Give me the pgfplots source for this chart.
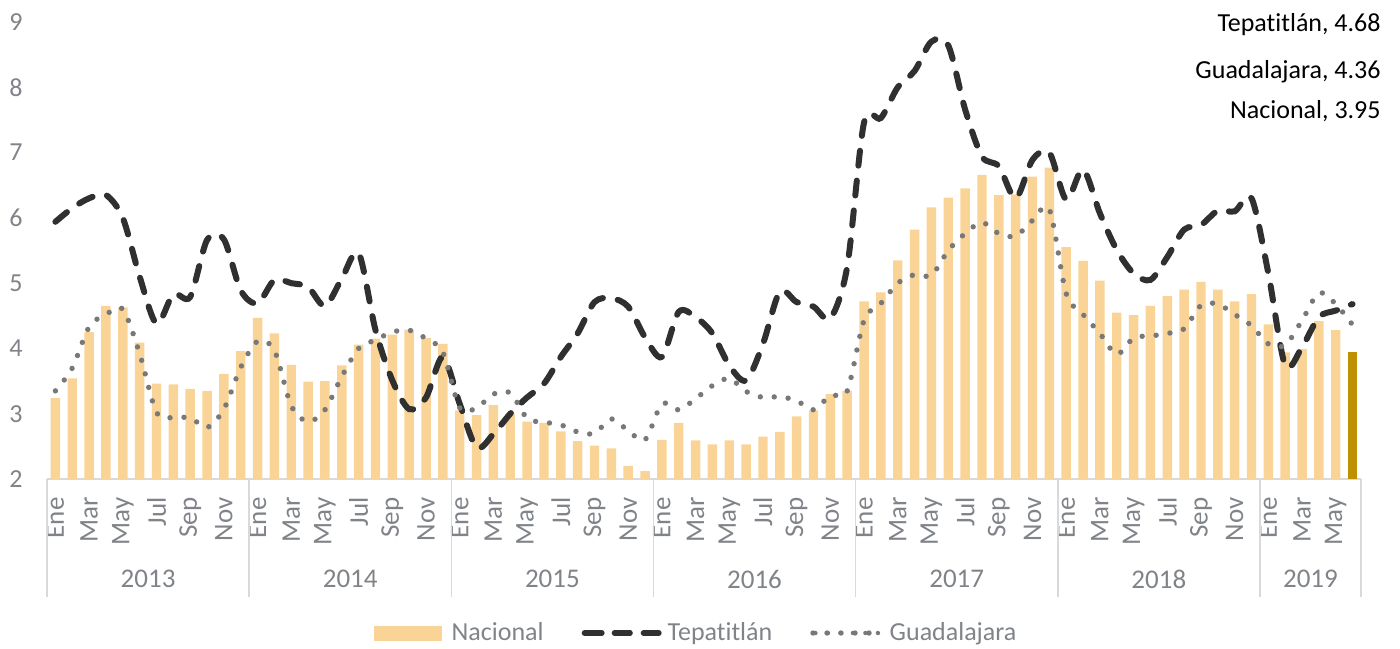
\documentclass[border=0pt]{standalone}
\usepackage{fontspec}
\setmainfont{Carlito}[Ligatures={NoCommon}]
\usepackage{pgfplots}
\usepackage{pgfplotstable}
\pgfplotsset{compat=1.18}
\definecolor{barc}{HTML}{F9D496}
\definecolor{barhi}{HTML}{BF9000}
\definecolor{tepc}{HTML}{303030}
\definecolor{guac}{HTML}{787878}
\definecolor{txtg}{HTML}{808489}
\definecolor{linec}{HTML}{D9D9D9}
\newcommand\ff{\fontsize{13}{15}\selectfont}
\newcommand\fm{\fontsize{13.5}{15}\selectfont}
\pgfplotstableread{
x nac
0 3.24
1 3.54
2 4.25
3 4.65
4 4.63
5 4.09
6 3.46
7 3.45
8 3.38
9 3.35
10 3.61
11 3.96
12 4.47
13 4.23
14 3.75
15 3.49
16 3.50
17 3.74
18 4.06
19 4.15
20 4.21
21 4.29
22 4.16
23 4.07
24 3.05
25 2.98
26 3.13
27 3.00
28 2.88
29 2.86
30 2.73
31 2.58
32 2.51
33 2.47
34 2.20
35 2.12
36 2.60
37 2.86
38 2.59
39 2.53
40 2.59
41 2.53
42 2.65
43 2.72
44 2.96
45 3.05
46 3.30
47 3.35
48 4.72
49 4.86
50 5.35
51 5.82
52 6.16
53 6.31
54 6.45
55 6.66
56 6.35
57 6.36
58 6.63
59 6.77
60 5.55
61 5.34
62 5.04
63 4.55
64 4.51
65 4.65
66 4.80
67 4.90
68 5.02
69 4.90
70 4.72
71 4.83
72 4.37
73 3.94
74 3.99
75 4.42
76 4.28
}\nactable
\pgfplotstableread{
x nac
77 3.95
}\lasttable
\pgfplotstableread{
x tep
0 5.94
1 6.15
2 6.30
3 6.35
4 6.00
5 5.10
6 4.38
7 4.83
8 4.79
9 5.66
10 5.67
11 4.89
12 4.69
13 5.05
14 5.00
15 4.94
16 4.65
17 5.07
18 5.46
19 4.28
20 3.51
21 3.07
22 3.25
23 3.87
24 3.15
25 2.48
26 2.69
27 3.00
28 3.25
29 3.46
30 3.87
31 4.23
32 4.71
33 4.77
34 4.64
35 4.17
36 3.87
37 4.56
38 4.48
39 4.23
40 3.74
41 3.51
42 4.07
43 4.87
44 4.71
45 4.64
46 4.46
47 5.25
48 7.46
49 7.53
50 8.00
51 8.25
52 8.70
53 8.64
54 7.66
55 6.94
56 6.79
57 6.30
58 6.89
59 7.00
60 6.28
61 6.74
62 6.07
63 5.51
64 5.15
65 5.05
66 5.40
67 5.82
68 5.89
69 6.11
70 6.10
71 6.30
72 5.15
73 3.74
74 4.02
75 4.48
76 4.58
77 4.68
}\teptable
\pgfplotstableread{
x gua
0 3.35
1 3.70
2 4.33
3 4.52
4 4.60
5 3.92
6 3.02
7 2.94
8 2.94
9 2.79
10 3.07
11 3.71
12 4.11
13 3.97
14 3.12
15 2.88
16 3.06
17 3.57
18 4.00
19 4.13
20 4.25
21 4.28
22 4.15
23 3.94
24 3.09
25 3.09
26 3.30
27 3.32
28 2.93
29 2.87
30 2.83
31 2.72
32 2.70
33 2.92
34 2.74
35 2.60
36 3.15
37 3.06
38 3.23
39 3.43
40 3.54
41 3.34
42 3.25
43 3.26
44 3.20
45 3.06
46 3.28
47 3.35
48 4.43
49 4.69
50 5.00
51 5.13
52 5.12
53 5.50
54 5.76
55 5.93
56 5.76
57 5.72
58 5.96
59 6.13
60 4.84
61 4.52
62 4.23
63 3.91
64 4.16
65 4.19
66 4.23
67 4.30
68 4.66
69 4.68
70 4.52
71 4.35
72 4.07
73 4.05
74 4.43
75 4.85
76 4.68
77 4.36
}\guatable
\begin{document}
\begin{tikzpicture}
\useasboundingbox (0,0) rectangle (700pt,324pt);
\begin{axis}[
  at={(23.5pt,84.5pt)}, anchor=south west,
  width=657pt, height=228.5pt, scale only axis,
  xmin=-0.5, xmax=77.5, ymin=2, ymax=9,
  clip mode=individual,
  axis x line*=bottom, axis y line*=left,
  y axis line style={draw=none},
  x axis line style={draw=linec, line width=0.75pt, -},
  major tick length=0pt, tick style={draw=none},
  ytick={2,3,4,5,6,7,8,9},
  /pgf/number format/assume math mode=true,
  yticklabel={\pgfmathprintnumber{\tick}},
  yticklabel style={font=\ff, text=txtg, anchor=east, inner sep=0pt, xshift=-12pt},
  xtick={0,2,...,76},
  xticklabels={Ene,Mar,May,Jul,Sep,Nov,Ene,Mar,May,Jul,Sep,Nov,Ene,Mar,May,Jul,Sep,Nov,Ene,Mar,May,Jul,Sep,Nov,Ene,Mar,May,Jul,Sep,Nov,Ene,Mar,May,Jul,Sep,Nov,Ene,Mar,May},
  xticklabel style={font=\fm, text=txtg, yshift=-9pt, rotate=90, anchor=east, inner sep=0pt},
  legend style={at={(axis description cs:0.4932,-0.337)}, anchor=center, draw=none, fill=none,
    legend columns=3, font=\ff, text=txtg, nodes={inner sep=0pt},
    /tikz/every odd column/.style={column sep=3pt},
    /tikz/every even column/.style={column sep=19pt}},
]
\addplot[ybar, bar width=0.56, bar shift=0pt, fill=barc, draw=none,
  legend image code/.code={\fill[barc] (0pt,-3.75pt) rectangle (34pt,3.75pt); \path (0pt,0pt) -- (36pt,0pt);}]
  table[x=x, y=nac] \nactable;
\addlegendentry{Nacional}
\addplot[ybar, bar width=0.56, bar shift=0pt, fill=barhi, draw=none, forget plot]
  table[x=x, y=nac] \lasttable;
\addplot[tepc, line width=3pt, line cap=round, dash pattern=on 7.5pt off 7.5pt, smooth, tension=0.5,
  legend image code/.code={\draw[tepc, line width=3pt, line cap=round, dash pattern=on 7pt off 7pt] (1.5pt,0pt) -- (35.5pt,0pt); \path (0pt,0pt) -- (37pt,0pt);}]
  table[x=x, y=tep] \teptable;
\addlegendentry{Tepatitlán}
\addplot[guac, line width=2.7pt, line cap=round, dash pattern=on 0pt off 7pt, smooth, tension=0.5,
  legend image code/.code={\draw[guac, line width=2.2pt, line cap=round, dash pattern=on 0pt off 6.25pt] (1.2pt,0pt) -- (32.5pt,0pt); \path (0pt,0pt) -- (34pt,0pt);}]
  table[x=x, y=gua] \guatable;
\addlegendentry{Guadalajara}
\pgfplotsinvokeforeach{-0.5,11.5,23.5,35.5,47.5,59.5,71.5,77.5}{
  \draw[linec, line width=0.75pt] (axis cs:#1,2) -- ++(0pt,-59pt);
}
\node[font=\fm, text=txtg, yshift=-50pt] at (axis cs:5.5,2) {2013};
\node[font=\fm, text=txtg, yshift=-50pt] at (axis cs:17.5,2) {2014};
\node[font=\fm, text=txtg, yshift=-50pt] at (axis cs:29.5,2) {2015};
\node[font=\fm, text=txtg, yshift=-50pt] at (axis cs:41.5,2) {2016};
\node[font=\fm, text=txtg, yshift=-50pt] at (axis cs:53.5,2) {2017};
\node[font=\fm, text=txtg, yshift=-50pt] at (axis cs:65.5,2) {2018};
\node[font=\fm, text=txtg, yshift=-50pt] at (axis cs:74.5,2) {2019};
\end{axis}
\node[font=\ff, anchor=base east, inner sep=0pt] at (690.5pt,308.2pt) {Tepatitlán, 4.68};
\node[font=\ff, anchor=base east, inner sep=0pt] at (690.5pt,284.8pt) {Guadalajara, 4.36};
\node[font=\ff, anchor=base east, inner sep=0pt] at (690.5pt,264.8pt) {Nacional, 3.95};
\end{tikzpicture}
\end{document}
